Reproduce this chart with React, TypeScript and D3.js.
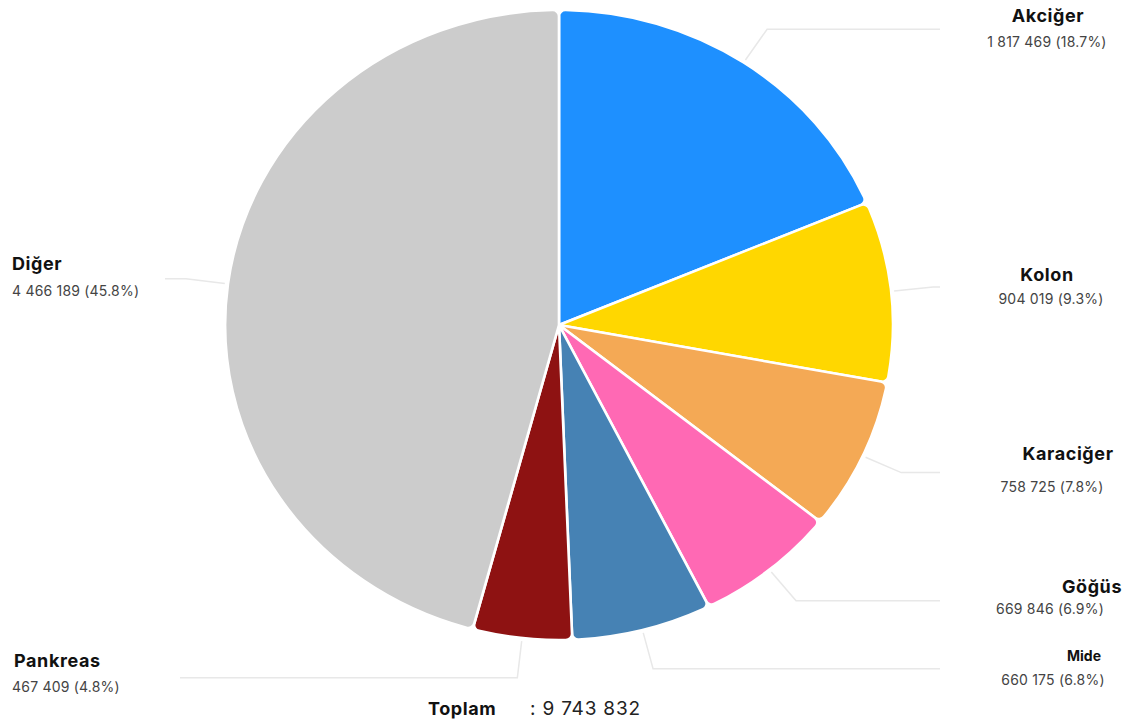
import React from "react";
import * as d3 from "d3";

const categories = ["Akciğer", "Kolon", "Karaciğer", "Göğüs", "Mide", "Pankreas", "Diğer"];
const values = [1817469, 904019, 758725, 669846, 660175, 467409, 4466189];
const percents = ["18.7%", "9.3%", "7.8%", "6.9%", "6.8%", "4.8%", "45.8%"];
const colors = ["#1E90FF", "#FFD700", "#F4A955", "#FF69B4", "#4682B4", "#8E1212", "#CCCCCC"];
const totalLabel = "Toplam";
const totalValue = 9743832;

// label layout (positions kept separate from data)
const layout = [
  { nx: 1048, ny: 22, vx: 1047, vy: 47, anchor: "middle", ns: 18, endX: 940 },
  { nx: 1047, ny: 281, vx: 1051, vy: 304, anchor: "middle", ns: 18, endX: 940 },
  { nx: 1068, ny: 460, vx: 1052, vy: 492, anchor: "middle", ns: 18, endX: 940 },
  { nx: 1092, ny: 593, vx: 1050, vy: 614, anchor: "middle", ns: 18, endX: 940 },
  { nx: 1084, ny: 661, vx: 1053, vy: 685, anchor: "middle", ns: 14, endX: 940 },
  { nx: 14, ny: 667, vx: 12, vy: 692, anchor: "start", ns: 18, endX: 180 },
  { nx: 12, ny: 270, vx: 12, vy: 296, anchor: "start", ns: 18, endX: 165 },
];

const fmt = (v: number) => d3.format(",")(v).replace(/,/g, " ");

export default function App() {
  const W = 1143, H = 722;
  const cx = 559, cy = 325, R = 315, sx = 1.06;
  const data = categories.map((c, i) => ({ name: c, value: values[i], pct: percents[i], color: colors[i], i }));
  const pie = d3.pie<any>().value((d) => d.value).sort(null).startAngle(0).endAngle(2 * Math.PI);
  const arcs = pie(data);
  const arc = d3.arc<any>().innerRadius(0).outerRadius(R).cornerRadius(6);
  const pt = (a: number, r: number) => [cx + sx * r * Math.sin(a), cy - r * Math.cos(a)];
  return (
    <svg width={W} height={H} style={{ position: "absolute", left: 0, top: 0, background: "#fff" }} fontFamily="Inter, 'Noto Sans', sans-serif">
      <g>
        {arcs.map((a, k) => {
          const mid = (a.startAngle + a.endAngle) / 2;
          const p0 = pt(mid, R + 3);
          const p1 = pt(mid, 355);
          const L = layout[k];
          const d = `M${p0[0]},${p0[1]}L${p1[0]},${p1[1]}L${L.endX},${p1[1]}`;
          return <path key={"l" + k} d={d} fill="none" stroke="#e8e8e8" strokeWidth={1.5} />;
        })}
      </g>
      <g transform={`translate(${cx},${cy}) scale(${sx},1)`}>
        {arcs.map((a, k) => (
          <path key={k} d={arc(a) as string} fill={a.data.color} stroke="#fff" strokeWidth={2.5} strokeLinejoin="round" />
        ))}
      </g>
      {arcs.map((a, k) => {
        const L = layout[k];
        return (
          <g key={"t" + k}>
            <text x={L.nx} y={L.ny} textAnchor={L.anchor as any} fontSize={L.ns} fontWeight={700} letterSpacing={L.ns > 15 ? 0.6 : 0} fill="#111">{a.data.name}</text>
            <text x={L.vx} y={L.vy} textAnchor={L.anchor as any} fontSize={14} letterSpacing={0.2} fill="#444">{`${fmt(a.data.value)} (${a.data.pct})`}</text>
          </g>
        );
      })}
      <text x={428} y={715} fontSize={18} fontWeight={700} letterSpacing={0.6} fill="#111">{totalLabel}</text>
      <text x={530} y={715} fontSize={19} letterSpacing={0.8} fill="#222">{`: ${fmt(totalValue)}`}</text>
    </svg>
  );
}
